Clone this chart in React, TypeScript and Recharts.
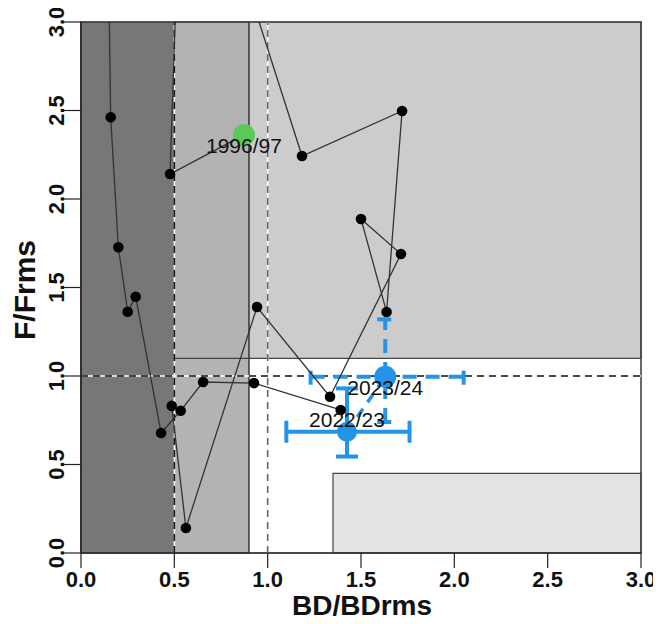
import React from 'react';
import { ScatterChart, Scatter, XAxis, YAxis, ReferenceArea, ReferenceLine, ErrorBar } from 'recharts';

// ---- data ----
const xTicks = [0, 0.5, 1, 1.5, 2, 2.5, 3];
const yTicks = [0, 0.5, 1, 1.5, 2, 2.5, 3];

// trajectory, first piece (starts at 1996/97, one point above the plotted range)
const trajectoryA = [
  { x: 0.873, y: 2.362 },
  { x: 0.477, y: 2.141 },
  { x: 0.547, y: 4.34 },
  { x: 1.184, y: 2.243 },
  { x: 1.72, y: 2.497 },
  { x: 1.637, y: 1.362 },
  { x: 1.5, y: 1.887 },
  { x: 1.714, y: 1.689 },
  { x: 1.334, y: 0.883 },
  { x: 0.943, y: 1.39 },
  { x: 0.562, y: 0.141 },
  { x: 0.486, y: 0.831 },
];

// trajectory, second piece (enters from above the plotted range)
const trajectoryB = [
  { x: 0.138, y: 4.0 },
  { x: 0.159, y: 2.462 },
  { x: 0.2, y: 1.727 },
  { x: 0.25, y: 1.363 },
  { x: 0.293, y: 1.448 },
  { x: 0.429, y: 0.678 },
  { x: 0.534, y: 0.804 },
  { x: 0.654, y: 0.966 },
  { x: 0.927, y: 0.96 },
  { x: 1.391, y: 0.808 },
];

const firstYear = [{ x: 0.873, y: 2.362, label: '1996/97' }];
const estimate2223 = [{ x: 1.425, y: 0.685, label: '2022/23', ex: [0.325, 0.335], ey: [0.14, 0.245] }];
const estimate2324 = [{ x: 1.63, y: 0.996, label: '2023/24', ex: [0.4, 0.42], ey: [0.256, 0.324] }];

// zones
const zoneLimX = [0.5, 0.9];
const zoneLimY = 1.1;
const boxLow = { x: 1.35, y: 0.45 };
const refX = [0.5, 1];
const refY = 1;

const labelsAbove = ['2022/23'];

const FONT = '"Liberation Sans", Arial, Helvetica, sans-serif';
const BLUE = '#2394e8';

const XTick = (props: any) => {
  const { x, y, payload } = props;
  return (
    <text x={x} y={y + 17} textAnchor="middle" fontFamily={FONT} fontSize={22} fontWeight="bold" fill="#111">
      {Number(payload.value).toFixed(1)}
    </text>
  );
};

const YTick = (props: any) => {
  const { x, y, payload } = props;
  const bx = x + 3;
  return (
    <text x={bx} y={y} transform={`rotate(-90, ${bx}, ${y})`} textAnchor="middle" fontFamily={FONT} fontSize={22} fontWeight="bold" fill="#111">
      {Number(payload.value).toFixed(1)}
    </text>
  );
};

const BlackDot = (props: any) => <circle cx={props.cx} cy={props.cy} r={5.3} fill="#000" />;
const NoDot = () => null;

const makeBig = (color: string, r: number) => (props: any) => <circle cx={props.cx} cy={props.cy} r={r} fill={color} />;

const LabelShape = (props: any) => {
  const lab = props.payload?.label ?? props.label;
  const above = labelsAbove.includes(lab);
  return (
    <text x={props.cx} y={props.cy + (above ? -5 : 18)} textAnchor="middle" fontFamily={FONT} fontSize={21} fill="#111">
      {lab}
    </text>
  );
};

export default function App() {
  const allLabels = [...firstYear, ...estimate2223, ...estimate2324];
  return (
    <div style={{ width: 653, height: 616 }}>
      <ScatterChart width={653} height={616} margin={{ top: 14, right: 20, left: 13, bottom: 11 }}>
        <XAxis
          type="number"
          dataKey="x"
          domain={[0, 3]}
          ticks={xTicks}
          allowDataOverflow
          height={60}
          tickSize={15}
          tick={<XTick />}
          axisLine={{ stroke: '#222', strokeWidth: 1.2 }}
          tickLine={{ stroke: '#222', strokeWidth: 1.2 }}
          label={{
            content: () => (
              <text x={354} y={607} textAnchor="middle" fontFamily={FONT} fontSize={28} fontWeight="bold" fill="#111">
                BD/BDrms
              </text>
            ),
          }}
        />
        <YAxis
          type="number"
          dataKey="y"
          domain={[0, 3]}
          ticks={yTicks}
          allowDataOverflow
          width={60}
          tickSize={18}
          tick={<YTick />}
          axisLine={{ stroke: '#222', strokeWidth: 1.2 }}
          tickLine={{ stroke: '#222', strokeWidth: 1.2 }}
          label={{
            content: () => (
              <text x={27} y={282} transform="rotate(-90, 27, 282)" textAnchor="middle" fontFamily={FONT} fontSize={30} fontWeight="bold" fill="#111">
                F/Frms
              </text>
            ),
          }}
        />

        {/* zones */}
        <ReferenceArea x1={zoneLimX[0]} x2={3} y1={zoneLimY} y2={3} fill="#cccccc" fillOpacity={1} stroke="#444" strokeWidth={1.2} />
        <ReferenceArea x1={zoneLimX[0]} x2={zoneLimX[1]} y1={0} y2={3} fill="#b3b3b3" fillOpacity={1} stroke="#111" strokeWidth={1.2} />
        <ReferenceLine segment={[{ x: zoneLimX[0], y: zoneLimY }, { x: zoneLimX[1], y: zoneLimY }]} stroke="#444" strokeWidth={1.2} />
        <ReferenceArea x1={0} x2={zoneLimX[0]} y1={0} y2={3} fill="#777777" fillOpacity={1} stroke="#222" strokeWidth={1.2} />
        <ReferenceArea x1={boxLow.x} x2={3} y1={0} y2={boxLow.y} fill="#e3e3e3" fillOpacity={1} stroke="#444" strokeWidth={1.2} />

        {/* reference lines */}
        <ReferenceLine x={refX[0]} stroke="#fff" strokeWidth={1.6} />
        <ReferenceLine x={refX[0]} stroke="#111" strokeWidth={1.6} strokeDasharray="7 5" />
        <ReferenceLine x={refX[1]} stroke="#fff" strokeWidth={1.6} />
        <ReferenceLine x={refX[1]} stroke="#666" strokeWidth={1.6} strokeDasharray="7 5" />
        <ReferenceLine y={refY} stroke="#fff" strokeWidth={1.6} />
        <ReferenceLine y={refY} stroke="#111" strokeWidth={1.6} strokeDasharray="7 5" />

        {/* trajectory */}
        <Scatter data={trajectoryA} line={{ stroke: '#333', strokeWidth: 1.3 }} shape={<BlackDot />} isAnimationActive={false} />
        <Scatter data={trajectoryB} line={{ stroke: '#333', strokeWidth: 1.3 }} shape={<BlackDot />} isAnimationActive={false} />
        <Scatter data={firstYear} shape={makeBig('#5cc85a', 11)} isAnimationActive={false} />

        {/* estimates */}
        <Scatter data={[...estimate2223, ...estimate2324]} line={{ stroke: BLUE, strokeWidth: 3.5, strokeDasharray: '10 8' }} shape={<NoDot />} isAnimationActive={false} />
        <Scatter data={estimate2223} shape={makeBig(BLUE, 10)} isAnimationActive={false}>
          <ErrorBar dataKey="ex" direction="x" width={11} stroke={BLUE} strokeWidth={4} />
          <ErrorBar dataKey="ey" direction="y" width={11} stroke={BLUE} strokeWidth={4} />
        </Scatter>
        <Scatter data={estimate2324} shape={makeBig(BLUE, 11)} isAnimationActive={false}>
          <ErrorBar dataKey="ex" direction="x" width={8} stroke={BLUE} strokeWidth={4} strokeDasharray="14 9" />
          <ErrorBar dataKey="ey" direction="y" width={8} stroke={BLUE} strokeWidth={4} strokeDasharray="14 9" />
        </Scatter>

        {/* labels */}
        <Scatter data={allLabels} shape={<LabelShape />} isAnimationActive={false} />

        {/* plot box */}
        <ReferenceArea x1={0} x2={3} y1={0} y2={3} fill="none" stroke="#444" strokeWidth={1.6} ifOverflow="visible" />
      </ScatterChart>
    </div>
  );
}
